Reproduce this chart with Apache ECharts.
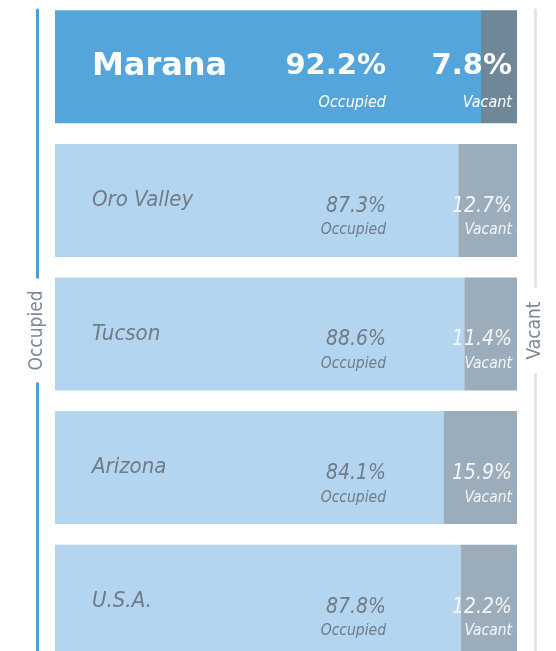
<!DOCTYPE html>
<html>
<head>
<meta charset="utf-8">
<script src="https://cdn.jsdelivr.net/npm/echarts@6/dist/echarts.min.js"></script>
<style>
  html, body { margin: 0; padding: 0; background: #fff; }
  #main { width: 556px; height: 651px; }
</style>
</head>
<body>
<div id="main"></div>
<script>
// data
const categories = ['Marana', 'Oro Valley', 'Tucson', 'Arizona', 'U.S.A.'];
const occupied = [92.2, 87.3, 88.6, 84.1, 87.8];
const vacant = [7.8, 12.7, 11.4, 15.9, 12.2];

const NARROW = "'Liberation Sans Narrow', 'DejaVu Sans Condensed', sans-serif";
const BOLD = "'DejaVu Sans', sans-serif";
const greyText = '#6f7b87';

function pct(p) { return p.value.toFixed(1) + '%'; }

// first row (Marana) is highlighted
const hiRich = {
  v: { fontFamily: BOLD, fontWeight: 'bold', fontStyle: 'normal', fontSize: 29, color: '#fff', lineHeight: 40 },
  t: { fontFamily: NARROW, fontWeight: 'normal', fontStyle: 'italic', fontSize: 16, color: '#fff', lineHeight: 32 }
};

// side axes: one draws the line, another one on top draws the name in a white gap
function sideLine(pos, color) {
  return {
    type: 'value', min: 0, max: 1, gridIndex: 1, position: pos, z: 1,
    axisLine: { show: true, lineStyle: { color: color, width: 3 } },
    axisTick: { show: false }, axisLabel: { show: false }, splitLine: { show: false }
  };
}
function sideName(pos, name, pad) {
  return {
    type: 'value', min: 0, max: 1, gridIndex: 1, position: pos, z: 5,
    name: '{a|' + name + '}', nameLocation: 'middle', nameGap: 0, nameRotate: 90,
    nameMoveOverlap: false,
    nameTextStyle: {
      align: 'center', verticalAlign: 'middle',
      rich: {
        a: {
          fontFamily: NARROW, fontSize: 19, color: '#7d8892',
          backgroundColor: '#fff', padding: [2, pad]
        }
      }
    },
    axisLine: { show: false },
    axisTick: { show: false }, axisLabel: { show: false }, splitLine: { show: false }
  };
}

let myChart = echarts.init(document.getElementById('main'));
let option = {
  animation: false,
  grid: [
    { left: 55, right: 39, top: 0, height: 668, outerBoundsMode: 'none' },
    { left: 37, right: 21, top: 10, bottom: 0, outerBoundsMode: 'none' }
  ],
  xAxis: [
    { type: 'value', min: 0, max: 100, show: false, gridIndex: 0 },
    { type: 'value', min: 0, max: 1, show: false, gridIndex: 1 }
  ],
  yAxis: [
    {
      type: 'category',
      data: categories,
      inverse: true,
      gridIndex: 0,
      z: 10,
      axisLine: { show: false },
      axisTick: { show: false },
      axisLabel: {
        inside: true,
        margin: 37,
        formatter: (v, i) => i === 0 ? '{hi|' + v + '}' : '{lo|' + v + '}',
        rich: {
          hi: { fontFamily: BOLD, fontWeight: 'bold', fontSize: 32, color: '#fff' },
          lo: { fontFamily: NARROW, fontStyle: 'italic', fontSize: 22, color: greyText }
        }
      }
    },
    sideLine('left', '#4a9edb'),
    sideName('left', 'Occupied', 12),
    sideLine('right', '#dfe5ea'),
    sideName('right', 'Vacant', 14)
  ],
  series: [
    {
      name: 'Occupied',
      type: 'bar',
      stack: 'all',
      barWidth: 113,
      data: occupied.map((v, i) => i === 0 ? {
        value: v,
        itemStyle: { color: '#53a5dc' },
        label: { position: [331, 36.5], rich: hiRich }
      } : { value: v }),
      itemStyle: { color: '#b4d5ef' },
      label: {
        show: true,
        position: [331, 50],
        align: 'right',
        verticalAlign: 'top',
        formatter: p => '{v|' + pct(p) + '}\n{t|Occupied}',
        rich: {
          v: { fontFamily: NARROW, fontStyle: 'italic', fontSize: 21, color: greyText, lineHeight: 25 },
          t: { fontFamily: NARROW, fontStyle: 'italic', fontSize: 15.5, color: greyText, lineHeight: 23 }
        }
      }
    },
    {
      name: 'Vacant',
      type: 'bar',
      stack: 'all',
      barWidth: 113,
      data: vacant.map((v, i) => i === 0 ? {
        value: v,
        itemStyle: { color: '#6f8797' },
        label: { position: ['100%', 36.5], rich: hiRich }
      } : { value: v }),
      itemStyle: { color: '#9badba' },
      label: {
        show: true,
        position: ['100%', 50],
        offset: [-5, 0],
        align: 'right',
        verticalAlign: 'top',
        formatter: p => '{v|' + pct(p) + '}\n{t|Vacant}',
        rich: {
          v: { fontFamily: NARROW, fontStyle: 'italic', fontSize: 21, color: '#f3f6f9', lineHeight: 25 },
          t: { fontFamily: NARROW, fontStyle: 'italic', fontSize: 15.5, color: '#f3f6f9', lineHeight: 23 }
        }
      }
    }
  ]
};
myChart.setOption(option);
</script>
</body>
</html>
